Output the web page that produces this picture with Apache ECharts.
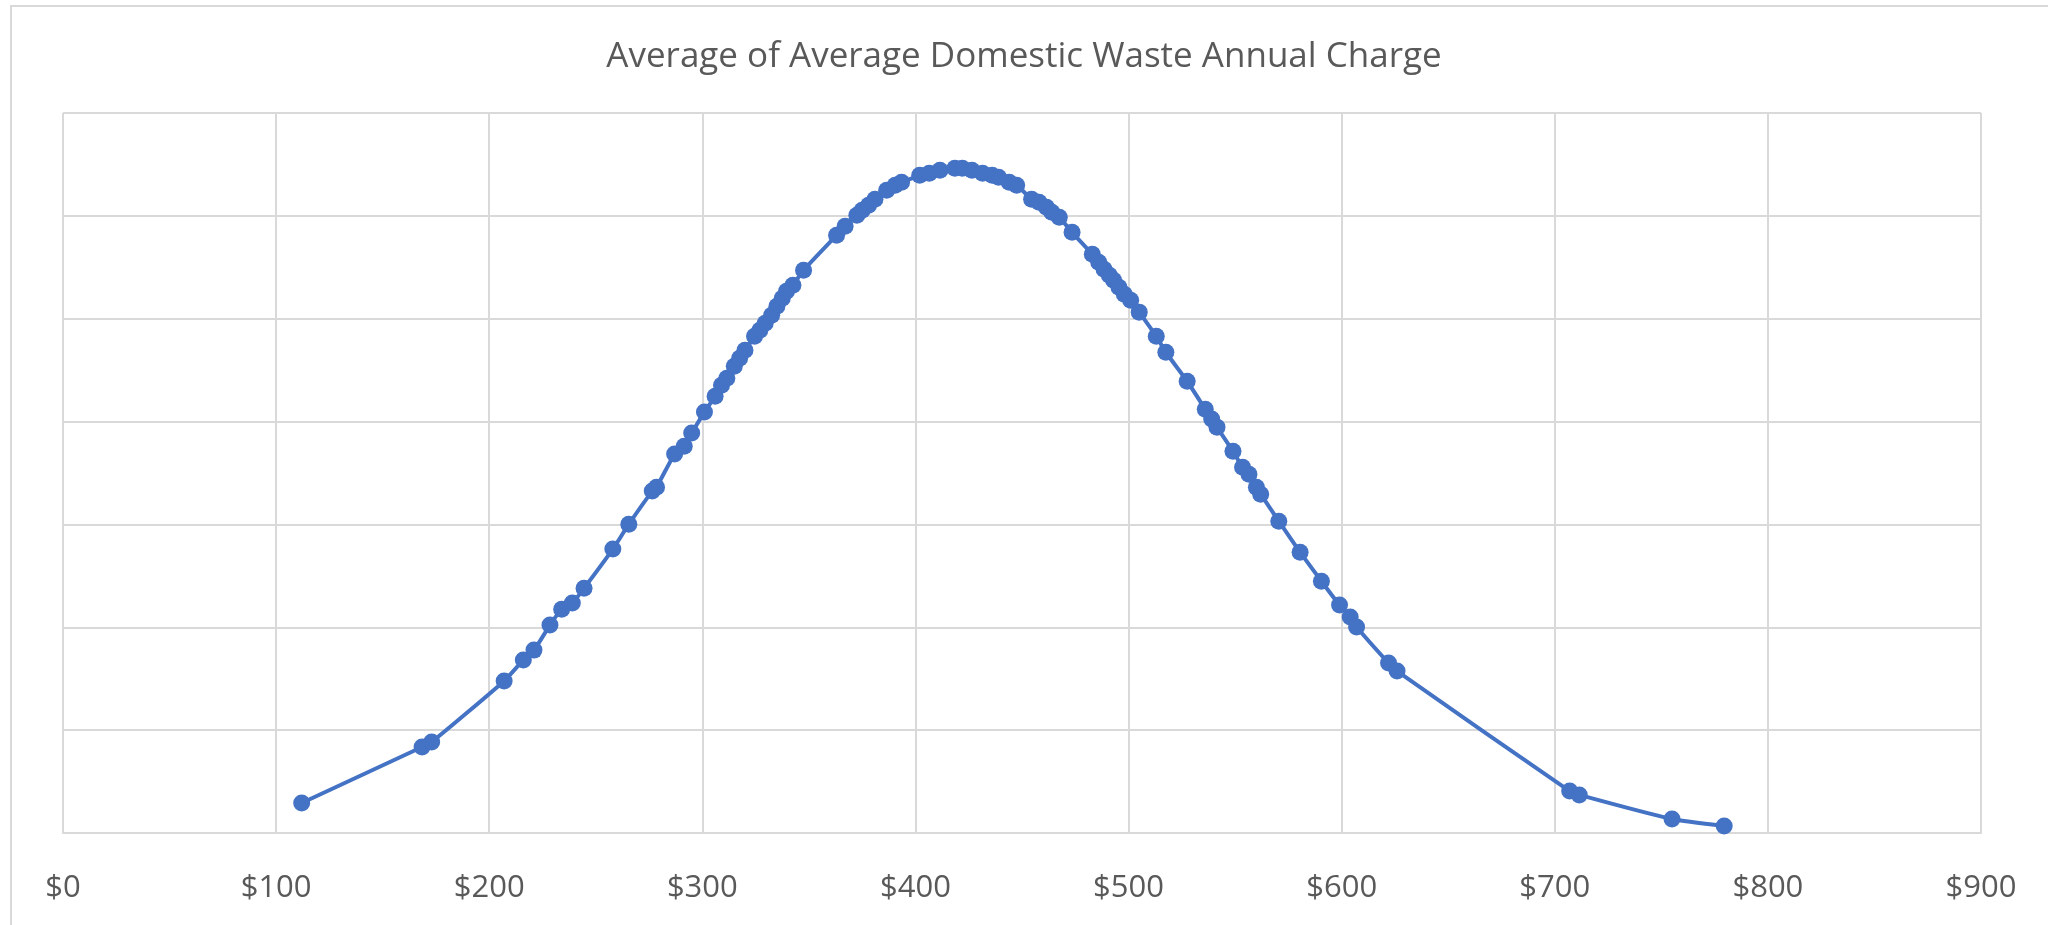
<!DOCTYPE html>
<html>
<head>
<meta charset="utf-8">
<title>Average of Average Domestic Waste Annual Charge</title>
<script src="https://cdn.jsdelivr.net/npm/echarts@6/dist/echarts.min.js"></script>
<style>
  html, body { margin: 0; padding: 0; background: #fff; overflow: hidden; }
  .frame {
    position: absolute; left: 10px; top: 5px;
    width: 2100px; height: 1000px;
    border: 2px solid #d9d9d9;
    box-sizing: border-box;
  }
  #chart { position: absolute; left: 0; top: 0; width: 2048px; height: 925px; }
</style>
</head>
<body>
<div class="frame"></div>
<div id="chart"></div>
<script>
// annual charge ($) of each council
var charges = [
  112, 168.5, 173, 207, 216, 221, 228.5, 234, 239, 244.5,
  258, 265.5, 276.5, 278.5, 287, 291.5, 295, 301, 306, 309,
  311.5, 315, 317.5, 320, 324.5, 327, 329.5, 332.5, 335, 337.5,
  339.5, 342.5, 347.5, 363, 367, 372.5, 375, 378, 381, 386.5,
  390.5, 393.5, 402, 406.5, 411.5, 418.5, 422, 426.5, 431.5, 436,
  439, 444, 447.5, 454.5, 458, 461.5, 464, 467.5, 473.5, 483,
  486, 488.5, 491, 493, 495.5, 498, 501, 505, 513, 517.5,
  527.5, 536, 539, 541.5, 549, 553.5, 556.5, 560, 562, 570.5,
  580.5, 590.5, 599, 604, 607, 622, 626, 707, 711.5, 755,
  779.5
];

// normal density at each charge (y axis has no labels)
var density = [
  0.000146, 0.000418, 0.000442, 0.000739, 0.000841, 0.000889, 0.001011, 0.001088, 0.001118, 0.001190,
  0.001380, 0.001501, 0.001662, 0.001681, 0.001842, 0.001880, 0.001944, 0.002046, 0.002123, 0.002177,
  0.002211, 0.002269, 0.002308, 0.002347, 0.002415, 0.002444, 0.002478, 0.002517, 0.002561, 0.002600,
  0.002634, 0.002663, 0.002736, 0.002906, 0.002949, 0.003003, 0.003027, 0.003052, 0.003081, 0.003124,
  0.003149, 0.003163, 0.003197, 0.003207, 0.003222, 0.003231, 0.003231, 0.003222, 0.003207, 0.003197,
  0.003188, 0.003163, 0.003149, 0.003081, 0.003066, 0.003042, 0.003017, 0.002993, 0.002920, 0.002813,
  0.002774, 0.002741, 0.002711, 0.002687, 0.002653, 0.002619, 0.002590, 0.002532, 0.002415, 0.002337,
  0.002196, 0.002060, 0.002012, 0.001973, 0.001856, 0.001778, 0.001744, 0.001681, 0.001647, 0.001516,
  0.001365, 0.001224, 0.001108, 0.001050, 0.001001, 0.000826, 0.000787, 0.000204, 0.000185, 0.000068,
  0.000034
];

var xTicks = [0, 100, 200, 300, 400, 500, 600, 700, 800, 900];

var points = [];
for (var i = 0; i < charges.length; i++) {
  points.push([charges[i], density[i]]);
}

var myChart = echarts.init(document.getElementById('chart'));
var option = {
  animation: false,
  title: {
    text: 'Average of Average Domestic Waste Annual Charge',
    left: 'center',
    top: 35,
    textStyle: {
      fontFamily: 'Open Sans',
      fontWeight: 'normal',
      fontSize: 35,
      color: '#595959'
    }
  },
  grid: {
    left: 63,
    right: 67,
    top: 113,
    bottom: 92,
    containLabel: false
  },
  xAxis: {
    type: 'value',
    min: xTicks[0],
    max: xTicks[xTicks.length - 1],
    interval: 100,
    axisLine: { show: true, lineStyle: { color: '#d9d9d9', width: 2 } },
    axisTick: { show: false },
    axisLabel: {
      margin: 40,
      fontFamily: 'Open Sans',
      fontSize: 31,
      color: '#595959',
      formatter: function (v) { return '$' + v; }
    },
    splitLine: { show: true, lineStyle: { color: '#d9d9d9', width: 2 } }
  },
  yAxis: {
    type: 'value',
    min: 0,
    max: 0.0035,
    interval: 0.0005,
    axisLine: { show: false },
    axisTick: { show: false },
    axisLabel: { show: false },
    splitLine: { show: true, lineStyle: { color: '#d9d9d9', width: 2 } }
  },
  series: [
    {
      type: 'line',
      data: points,
      smooth: 0.2,
      symbol: 'circle',
      symbolSize: 17,
      showAllSymbol: true,
      lineStyle: { color: '#4472C4', width: 4 },
      itemStyle: { color: '#4472C4' }
    }
  ]
};
option && myChart.setOption(option);
</script>
</body>
</html>
